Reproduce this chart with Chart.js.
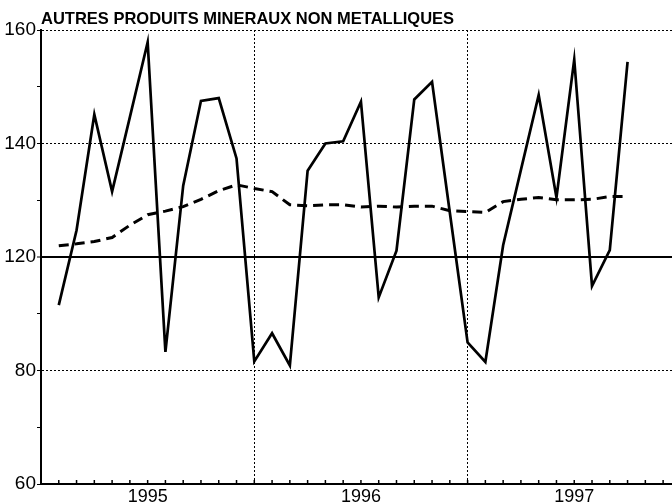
<!DOCTYPE html>
<html>
<head>
<meta charset="utf-8">
<script src="https://cdn.jsdelivr.net/npm/chart.js@4/dist/chart.umd.min.js"></script>
<style>
  html, body { margin: 0; padding: 0; background: #fff; }
  #wrap { width: 672px; height: 504px; position: relative; }
</style>
</head>
<body>
<div id="wrap"><canvas id="chart"></canvas></div>
<script>
const title = 'AUTRES PRODUITS MINERAUX NON METALLIQUES';

// months of the series (Feb 1995 .. Oct 1997)
const monthLabels = [
  '1995-02', '1995-03', '1995-04', '1995-05', '1995-06', '1995-07', '1995-08', '1995-09', '1995-10', '1995-11', '1995-12',
  '1996-01', '1996-02', '1996-03', '1996-04', '1996-05', '1996-06', '1996-07', '1996-08', '1996-09', '1996-10', '1996-11', '1996-12',
  '1997-01', '1997-02', '1997-03', '1997-04', '1997-05', '1997-06', '1997-07', '1997-08', '1997-09', '1997-10'
];

const rawValues = [
  99.4, 115.9, 141.4, 124.4, 140.8, 157.3, 89.1, 125.7, 144.4, 145.0, 131.7,
  87.0, 93.2, 86.1, 129.0, 135.0, 135.5, 144.2, 101.1, 111.4, 144.7, 148.6, 119.8,
  91.2, 86.9, 112.6, 129.2, 145.7, 123.1, 153.5, 103.6, 111.5, 153.0
];

const trendValues = [
  112.5, 112.9, 113.4, 114.3, 117.0, 119.3, 120.1, 121.1, 122.7, 124.6, 125.9,
  125.1, 124.4, 121.5, 121.3, 121.5, 121.5, 121.0, 121.2, 121.0, 121.2, 121.2, 120.2,
  120.0, 119.8, 122.2, 122.7, 123.1, 122.6, 122.6, 122.7, 123.3, 123.3
];

// y axis: labels as printed on the original, equally spaced
const yTickValues = [60, 85, 110, 135, 160];
const yTickLabels = ['60', '80', '120', '140', '160'];
const yMinorStep = 12.5;

const years = ['1995', '1996', '1997'];
const yearBreaks = [12, 24];

const FONT = "'Liberation Sans', Arial, sans-serif";

function monthIndex(label) {
  const [y, m] = label.split('-').map(Number);
  return (y - 1995) * 12 + (m - 1);
}

const rawPoints = monthLabels.map((m, i) => ({ x: monthIndex(m), y: rawValues[i] }));
const trendPoints = monthLabels.map((m, i) => ({ x: monthIndex(m), y: trendValues[i] }));
const yearCenters = years.map((_, i) => i * 12 + 6);

// small inward tick marks on the bottom axis, one per month
const monthTicks = {
  id: 'monthTicks',
  afterDraw(chart) {
    const { ctx, chartArea, scales } = chart;
    ctx.save();
    ctx.strokeStyle = '#000';
    ctx.lineWidth = 1.5;
    for (let m = 1; m <= 35; m++) {
      const px = scales.x.getPixelForValue(m);
      if (px > chartArea.right) break;
      ctx.beginPath();
      ctx.moveTo(px, chartArea.bottom);
      ctx.lineTo(px, chartArea.bottom - 4);
      ctx.stroke();
    }
    ctx.restore();
  }
};

new Chart(document.getElementById('chart'), {
  type: 'line',
  data: {
    datasets: [
      {
        data: rawPoints,
        borderColor: '#000',
        borderWidth: 2.7,
        pointRadius: 0,
        tension: 0
      },
      {
        data: trendPoints,
        borderColor: '#000',
        borderWidth: 3,
        borderDash: [10, 6],
        pointRadius: 0,
        tension: 0
      }
    ]
  },
  options: {
    responsive: true,
    maintainAspectRatio: false,
    animation: false,
    layout: { padding: 0 },
    plugins: {
      legend: { display: false },
      tooltip: { enabled: false },
      title: {
        display: true,
        text: title,
        align: 'start',
        fullSize: false,
        color: '#000',
        font: { family: FONT, size: 16.5, weight: 'bold', lineHeight: 1.2 },
        padding: { top: 10, bottom: 0.2 }
      }
    },
    scales: {
      x: {
        type: 'linear',
        min: 0,
        max: 35.5,
        afterBuildTicks: (scale) => {
          scale.ticks = yearCenters.concat(yearBreaks).sort((a, b) => a - b).map(v => ({ value: v }));
        },
        afterFit: (scale) => { scale.height = 20; },
        ticks: {
          autoSkip: false,
          maxRotation: 0,
          padding: 2,
          color: '#000',
          font: { family: FONT, size: 18 },
          callback: (v) => {
            const i = yearCenters.indexOf(v);
            return i >= 0 ? years[i] : '';
          }
        },
        grid: {
          drawTicks: false,
          lineWidth: 1,
          color: (c) => c.tick && yearBreaks.includes(c.tick.value) ? '#000' : 'rgba(0,0,0,0)'
        },
        border: { display: true, color: '#000', width: 2, dash: [2, 2] }
      },
      y: {
        min: 60,
        max: 160,
        afterBuildTicks: (scale) => {
          const t = [];
          for (let v = 60; v <= 160; v += yMinorStep) t.push({ value: v });
          scale.ticks = t;
        },
        afterFit: (scale) => { scale.width = 41; },
        ticks: {
          autoSkip: false,
          padding: 1,
          color: '#000',
          font: { family: FONT, size: 19 },
          callback: (v) => {
            const i = yTickValues.indexOf(v);
            return i >= 0 ? yTickLabels[i] : '';
          }
        },
        grid: {
          drawTicks: true,
          tickLength: 4,
          tickColor: '#000',
          tickWidth: 1,
          lineWidth: (c) => c.tick && c.tick.value === 110 ? 2 : 1,
          color: (c) => {
            if (!c.tick) return 'rgba(0,0,0,0)';
            const v = c.tick.value;
            return (v !== 60 && yTickValues.includes(v)) ? '#000' : 'rgba(0,0,0,0)';
          }
        },
        border: {
          display: true,
          color: '#000',
          width: 2,
          dash: (c) => c.tick && c.tick.value === 110 ? [] : [2, 2]
        }
      }
    }
  },
  plugins: [monthTicks]
});
</script>
</body>
</html>
